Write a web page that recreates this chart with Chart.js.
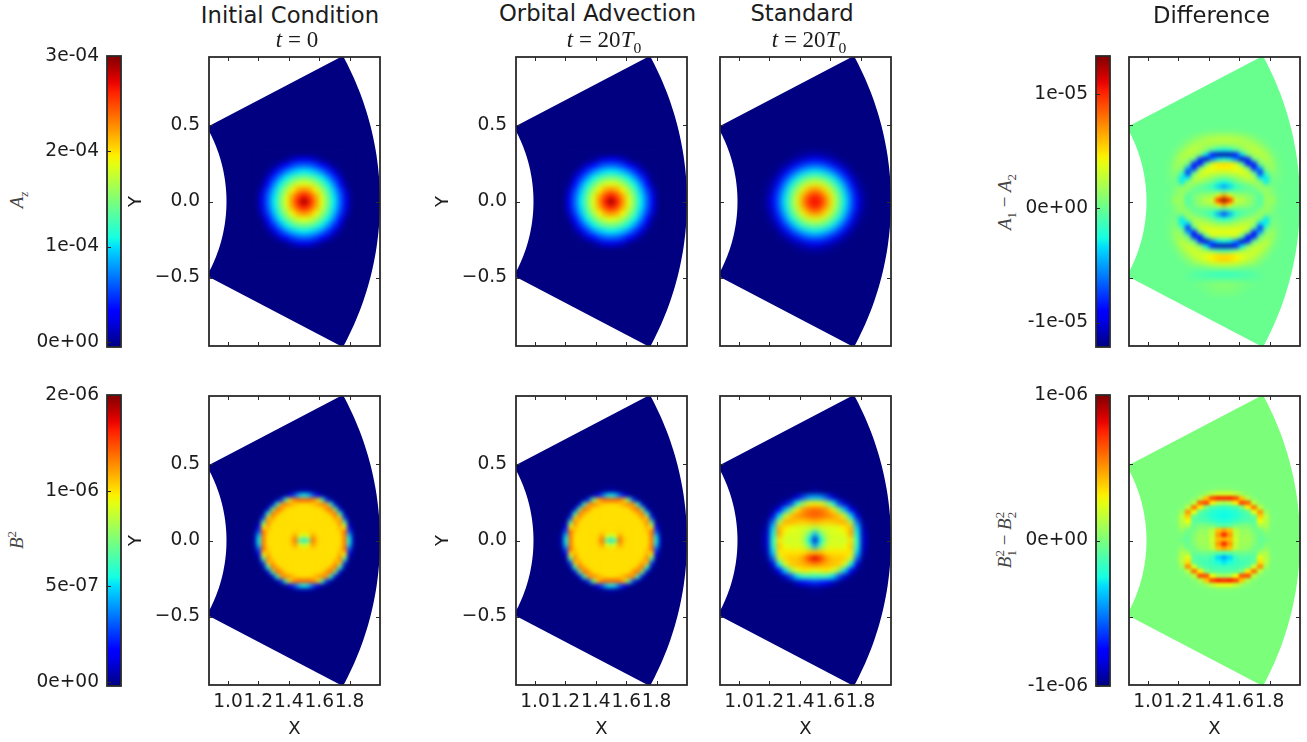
<!DOCTYPE html>
<html>
<head>
<meta charset="utf-8">
<title>Orbital advection field loop</title>
<script src="https://cdn.jsdelivr.net/npm/chart.js@4"></script>
<style>
  html, body { margin: 0; padding: 0; background: #fff; }
  body { position: relative; width: 1307px; height: 742px; overflow: hidden; }
  canvas { position: absolute; }
  .txt { position: absolute; white-space: nowrap; color: #1c1c1c; transform: translate(-50%, -50%); }
  .head { font: 22.7px "DejaVu Sans", sans-serif; }
  .math { font: italic 23px "Liberation Serif", serif; }
  .math span, .side span { font-style: normal; }
  .side { font: italic 19px "Liberation Serif", serif; color: #444; transform: translate(-50%, -50%) rotate(-90deg); }
  sub, sup { font-size: 68%; line-height: 0; }
  sub + sup { margin-left: -0.5em; }
</style>
</head>
<body>
<script>
// tick labels
const xTicks = [1.0, 1.2, 1.4, 1.6, 1.8];
const xTickLabels = ['1.0', '1.2', '1.4', '1.6', '1.8'];
const yTicks = [-0.5, 0, 0.5];
const yTickLabels = ['\u22120.5', '0.0', '0.5'];

// colorbars: value range and ticks
const barARange = [-5.5e-6, 3e-4];
const barATicks = [0, 1e-4, 2e-4, 3e-4];
const barALabels = ['0e+00', '1e-04', '2e-04', '3e-04'];
const barBRange = [-0.02e-6, 1.5e-6];
const barBTicks = [0, 5e-7, 1e-6, 1.5e-6];
const barBLabels = ['0e+00', '5e-07', '1e-06', '2e-06'];
const barDiffARange = [-1.213e-5, 1.334e-5];
const barDiffATicks = [-1e-5, 0, 1e-5];
const barDiffALabels = ['-1e-05', '0e+00', '1e-05'];
const barDiffBRange = [-1e-6, 1e-6];
const barDiffBTicks = [-1e-6, 0, 1e-6];
const barDiffBLabels = ['-1e-06', '0e+00', '1e-06'];

// Az, units 1e-6, quarter of the loop (grid 0.04)
const azInitial = [
  [300, 268, 228, 188, 148, 108, 68, 28, 0],
  [268, 251, 219, 182, 143, 104, 65, 25, 0],
  [228, 219, 195, 164, 129, 93, 55, 17, 0],
  [188, 182, 164, 138, 108, 75, 40, 5, 0],
  [148, 143, 129, 108, 82, 52, 20, 0, 0],
  [108, 104, 93, 75, 52, 25, 5, 0, 0],
  [68, 65, 55, 40, 20, 5, 0, 0, 0],
  [28, 25, 17, 5, 0, 0, 0, 0, 0],
  [0, 0, 0, 0, 0, 0, 0, 0, 0]
];
const azStandard = [
  [272, 265, 230, 188, 148, 108, 68, 32, 8],
  [265, 250, 219, 182, 143, 104, 65, 28, 6],
  [230, 219, 195, 164, 129, 93, 55, 20, 4],
  [188, 182, 164, 138, 108, 75, 42, 12, 2],
  [148, 143, 129, 108, 82, 52, 22, 5, 0],
  [108, 104, 93, 75, 52, 27, 8, 0, 0],
  [68, 65, 55, 42, 22, 8, 2, 0, 0],
  [32, 28, 20, 12, 5, 0, 0, 0, 0],
  [8, 6, 4, 2, 0, 0, 0, 0, 0]
];

// B^2, units 1e-8, quarter of the loop (grid 0.03)
const b2Initial = [
  [50, 62, 120, 104, 101, 101, 101, 101, 101, 118, 55, 5],
  [85, 95, 112, 102, 101, 101, 101, 101, 101, 118, 50, 3],
  [100, 102, 102, 101, 101, 101, 101, 101, 104, 120, 32, 1],
  [101, 101, 101, 101, 101, 101, 101, 101, 108, 98, 18, 0],
  [101, 101, 101, 101, 101, 101, 101, 102, 116, 70, 4, 0],
  [101, 101, 101, 101, 101, 101, 101, 112, 104, 28, 0, 0],
  [101, 101, 101, 101, 101, 101, 110, 118, 58, 4, 0, 0],
  [101, 101, 101, 101, 102, 114, 120, 68, 10, 0, 0, 0],
  [101, 102, 104, 110, 116, 112, 58, 10, 0, 0, 0, 0],
  [122, 122, 118, 104, 70, 28, 4, 0, 0, 0, 0, 0],
  [55, 50, 32, 18, 4, 0, 0, 0, 0, 0, 0, 0],
  [5, 3, 1, 0, 0, 0, 0, 0, 0, 0, 0, 0]
];
// half of the loop, top to bottom (grid 0.04)
const b2Standard = [
  [4, 1, 0, 0, 0, 0, 0, 0, 0],
  [45, 42, 30, 12, 2, 0, 0, 0, 0],
  [98, 95, 82, 58, 28, 10, 1, 0, 0],
  [120, 118, 112, 100, 74, 45, 18, 2, 0],
  [122, 120, 116, 112, 105, 88, 50, 12, 0],
  [108, 106, 104, 105, 108, 108, 82, 35, 2],
  [85, 90, 92, 93, 95, 100, 108, 50, 6],
  [45, 72, 88, 92, 92, 95, 110, 55, 8],
  [10, 55, 85, 92, 90, 90, 100, 60, 10],
  [42, 72, 90, 93, 92, 95, 105, 58, 8],
  [105, 105, 100, 100, 100, 100, 100, 50, 6],
  [138, 128, 112, 105, 105, 103, 90, 35, 2],
  [115, 112, 108, 106, 104, 92, 55, 12, 0],
  [95, 98, 100, 95, 80, 50, 18, 2, 0],
  [62, 62, 62, 52, 30, 10, 1, 0, 0],
  [25, 22, 18, 9, 2, 0, 0, 0, 0],
  [3, 1, 0, 0, 0, 0, 0, 0, 0]
];

// A1 - A2, units 1e-7, half of the loop, top to bottom (grid 0.04 x 0.03)
const azDiff = [
  [0, 0, 0, 0, 0, 0, 0, 0, 0, 0],
  [5, 5, 4, 3, 2, 0, 0, 0, 0, 0],
  [20, 19, 17, 14, 10, 6, 2, 0, 0, 0],
  [25, 25, 24, 22, 18, 12, 6, 2, 0, 0],
  [10, 12, 15, 19, 22, 22, 14, 6, 1, 0],
  [-28, -22, -8, 10, 20, 25, 22, 12, 4, 0],
  [-112, -110, -88, -35, 8, 20, 25, 20, 8, 1],
  [-25, -30, -55, -108, -80, 0, 15, 22, 12, 2],
  [50, 48, 35, -10, -88, -82, 5, 15, 15, 3],
  [45, 45, 42, 35, 5, -85, -50, 10, 15, 4],
  [25, 27, 32, 35, 32, -5, -80, -10, 10, 4],
  [5, 8, 14, 22, 28, 22, -35, -30, 5, 3],
  [-25, -15, 0, 8, 15, 20, 12, -30, 3, 2],
  [-52, -36, -18, -8, -2, 5, 15, 10, 5, 1],
  [-8, -5, -2, 0, 0, -3, 8, 15, 8, 1],
  [70, 45, 18, 16, 12, 4, -6, 15, 10, 2],
  [133, 105, 35, 24, 16, 6, -8, 15, 18, 3],
  [70, 45, 18, 16, 12, 4, -6, 15, 10, 2],
  [-10, -7, -2, 0, 0, -3, 8, 15, 8, 1],
  [-78, -48, -20, -8, -2, 5, 15, 8, 5, 1],
  [-25, -15, -2, 8, 14, 18, 12, -30, 3, 2],
  [8, 10, 16, 22, 25, 20, -35, -30, 5, 3],
  [30, 30, 32, 34, 30, -5, -80, -10, 10, 4],
  [40, 40, 40, 32, 5, -85, -50, 10, 15, 4],
  [25, 25, 28, -10, -88, -82, 5, 15, 15, 3],
  [-25, -30, -55, -108, -80, 0, 15, 25, 12, 2],
  [-112, -110, -88, -35, 8, 22, 28, 22, 8, 1],
  [-18, -12, 0, 15, 25, 32, 26, 15, 4, 0],
  [50, 50, 45, 38, 32, 28, 18, 8, 1, 0],
  [55, 52, 45, 35, 28, 20, 10, 3, 0, 0],
  [30, 28, 25, 20, 14, 10, 4, 0, 0, 0],
  [5, 5, 4, 2, 0, 0, 0, 0, 0, 0],
  [-15, -14, -12, -10, -8, -5, -2, 0, 0, 0],
  [-8, -8, -8, -7, -6, -4, -2, 0, 0, 0],
  [6, 6, 5, 4, 2, 0, 0, 0, 0, 0],
  [10, 9, 7, 5, 3, 1, 0, 0, 0, 0],
  [5, 5, 4, 2, 0, 0, 0, 0, 0, 0]
];

// B1^2 - B2^2, units 1e-8, half of the loop, top to bottom (grid 0.04 x 0.03)
const b2Diff = [
  [0, 0, 0, 0, 0, 0, 0, 0, 0],
  [2, 2, 1, 0, 0, 0, 0, 0, 0],
  [20, 20, 16, 8, 2, 0, 0, 0, 0],
  [72, 74, 66, 40, 12, 2, 0, 0, 0],
  [10, 15, 32, 66, 60, 15, 2, 0, 0],
  [-18, -16, -12, 0, 32, 56, 15, 1, 0],
  [-25, -24, -20, -15, -8, 26, 50, 8, 0],
  [-26, -25, -22, -16, -12, -5, 38, 15, 0],
  [-22, -20, -16, -12, -10, -8, 28, 14, 1],
  [-10, -8, -2, 0, 0, -5, 12, 12, 0],
  [48, 40, 15, 6, 6, -2, -2, 5, 0],
  [75, 50, 18, 8, 8, 2, -5, 0, 0],
  [45, 42, 20, 8, 10, 3, -6, -3, 0],
  [75, 50, 18, 8, 8, 2, -5, 0, 0],
  [48, 40, 15, 6, 6, -2, -2, 5, 0],
  [-12, -10, -5, -3, -4, -6, 10, 12, 0],
  [-42, -32, -16, -10, -12, -8, 25, 14, 1],
  [-30, -25, -18, -14, -12, -6, 35, 15, 0],
  [-16, -15, -14, -12, -6, 20, 52, 8, 0],
  [-10, -10, -8, 0, 32, 58, 15, 1, 0],
  [8, 12, 28, 64, 65, 15, 2, 0, 0],
  [74, 76, 68, 40, 12, 2, 0, 0, 0],
  [25, 25, 18, 8, 2, 0, 0, 0, 0],
  [2, 2, 1, 0, 0, 0, 0, 0, 0],
  [0, 0, 0, 0, 0, 0, 0, 0, 0]
];

const LOOP_X = 1.5;
const X_RANGE = [0.875, 2.0];
const Y_RANGE = [-0.95, 0.95];
const INK = '#2a2a2a';
const TICK_SIZE = 18.6;

// matplotlib jet
function ramp(stops, t) {
  for (let i = 1; i < stops.length; i++) {
    if (t <= stops[i][0]) {
      const a = stops[i - 1], b = stops[i];
      return a[1] + (b[1] - a[1]) * (t - a[0]) / (b[0] - a[0]);
    }
  }
  return stops[stops.length - 1][1];
}
function jet(t) {
  t = Math.max(0, Math.min(1, t));
  const r = ramp([[0, 0], [0.35, 0], [0.66, 1], [0.89, 1], [1, 0.5]], t);
  const g = ramp([[0, 0], [0.125, 0], [0.375, 1], [0.64, 1], [0.91, 0], [1, 0]], t);
  const b = ramp([[0, 0.5], [0.11, 1], [0.34, 1], [0.65, 0], [1, 0]], t);
  return 'rgb(' + Math.round(r * 255) + ',' + Math.round(g * 255) + ',' + Math.round(b * 255) + ')';
}

function addCanvas(left, top, width, height) {
  const c = document.createElement('canvas');
  c.width = width;
  c.height = height;
  c.style.left = left + 'px';
  c.style.top = top + 'px';
  document.body.appendChild(c);
  return c.getContext('2d');
}

function addText(cls, x, y, html) {
  const d = document.createElement('div');
  d.className = 'txt ' + cls;
  d.style.left = x + 'px';
  d.style.top = y + 'px';
  d.innerHTML = html;
  document.body.appendChild(d);
}

// inward tick marks and the frame, matplotlib classic look
function drawFrame(chart, allSides) {
  const ctx = chart.ctx, a = chart.chartArea, len = 4;
  ctx.save();
  ctx.strokeStyle = INK;
  ctx.lineWidth = 1;
  ctx.beginPath();
  const y = chart.scales.y;
  y.ticks.forEach(t => {
    const py = Math.round(y.getPixelForValue(t.value)) + 0.5;
    ctx.moveTo(a.left, py);
    ctx.lineTo(a.left + len, py);
    if (allSides) {
      ctx.moveTo(a.right, py);
      ctx.lineTo(a.right - len, py);
    }
  });
  if (allSides) {
    const x = chart.scales.x;
    x.ticks.forEach(t => {
      const px = Math.round(x.getPixelForValue(t.value)) + 0.5;
      ctx.moveTo(px, a.top);
      ctx.lineTo(px, a.top + len);
      ctx.moveTo(px, a.bottom);
      ctx.lineTo(px, a.bottom - len);
    });
  }
  ctx.stroke();
  ctx.lineWidth = 1.8;
  ctx.strokeRect(a.left, a.top, a.right - a.left, a.bottom - a.top);
  ctx.restore();
}

// outline of the simulated wedge in data space
function wedgePath(ctx, sx, sy) {
  const rIn = 0.99, rOut = 2.0, angIn = 29.6 * Math.PI / 180, angOut = 28.6 * Math.PI / 180;
  ctx.beginPath();
  for (let i = 0; i <= 60; i++) {
    const t = angOut - 2 * angOut * i / 60;
    const px = sx.getPixelForValue(rOut * Math.cos(t)), py = sy.getPixelForValue(rOut * Math.sin(t));
    if (i === 0) ctx.moveTo(px, py); else ctx.lineTo(px, py);
  }
  for (let i = 0; i <= 60; i++) {
    const t = -angIn + 2 * angIn * i / 60;
    ctx.lineTo(sx.getPixelForValue(rIn * Math.cos(t)), sy.getPixelForValue(rIn * Math.sin(t)));
  }
  ctx.closePath();
}

// the cells are drawn by the scatter dataset, then smoothed and cut to the wedge
const wedgePlugin = {
  id: 'wedge',
  afterDatasetsDraw(chart, args, opts) {
    const ctx = chart.ctx, a = chart.chartArea;
    const tmp = document.createElement('canvas');
    tmp.width = chart.width;
    tmp.height = chart.height;
    const t = tmp.getContext('2d');
    t.filter = 'blur(' + opts.blur + 'px)';
    t.drawImage(chart.canvas, 0, 0);
    ctx.clearRect(a.left, a.top, a.right - a.left, a.bottom - a.top);
    ctx.save();
    ctx.beginPath();
    ctx.rect(a.left, a.top, a.right - a.left, a.bottom - a.top);
    ctx.clip();
    wedgePath(ctx, chart.scales.x, chart.scales.y);
    ctx.clip();
    ctx.fillStyle = opts.background;
    ctx.fillRect(a.left, a.top, a.right - a.left, a.bottom - a.top);
    ctx.drawImage(tmp, 0, 0);
    ctx.restore();
  },
  afterDraw(chart) {
    drawFrame(chart, true);
  }
};

// field: rows top to bottom, first column on the loop axis
function fieldPoints(field) {
  const pts = [], colors = [];
  const rows = [];
  field.rows.forEach((row, j) => {
    const y = field.quarter ? j * field.dy : field.topY - j * field.dy;
    rows.push([y, row]);
    if (field.quarter && j > 0) rows.push([-y, row]);
  });
  rows.forEach(item => {
    item[1].forEach((v, i) => {
      const c = jet((v * field.unit - field.range[0]) / (field.range[1] - field.range[0]));
      pts.push({ x: LOOP_X + i * field.dx, y: item[0] });
      colors.push(c);
      if (i > 0) {
        pts.push({ x: LOOP_X - i * field.dx, y: item[0] });
        colors.push(c);
      }
    });
  });
  return { pts, colors };
}

function zeroPadding(s) {
  s.paddingLeft = 0;
  s.paddingRight = 0;
  s.paddingTop = 0;
  s.paddingBottom = 0;
}

function panel(left, top, field, showX, showY) {
  const w = 171, h = 289, mLeft = 83, mTop = 6, mRight = 5, mBottom = 55;
  const ctx = addCanvas(left - mLeft, top - mTop, mLeft + w + mRight, mTop + h + mBottom);
  const d = fieldPoints(field);
  const scale = Math.max(field.dx, field.dy) * 151;
  new Chart(ctx, {
    type: 'scatter',
    data: {
      datasets: [{
        data: d.pts,
        pointStyle: 'rect',
        pointRadius: scale * 0.82,
        pointHoverRadius: scale * 0.82,
        borderWidth: 0,
        pointBorderWidth: 0,
        pointBackgroundColor: d.colors
      }]
    },
    options: {
      responsive: false,
      animation: false,
      events: [],
      layout: { padding: { left: 0, top: mTop, right: mRight, bottom: 0 } },
      plugins: {
        legend: { display: false },
        tooltip: { enabled: false },
        wedge: { blur: field.blur, background: jet((0 - field.range[0]) / (field.range[1] - field.range[0])) }
      },
      scales: {
        x: {
          type: 'linear',
          min: X_RANGE[0],
          max: X_RANGE[1],
          afterBuildTicks: s => { s.ticks = xTicks.map(v => ({ value: v })); },
          afterFit: s => { s.height = mBottom; zeroPadding(s); },
          grid: { display: false, drawTicks: false, z: 1 },
          border: { display: false, z: 1 },
          title: { display: showX, text: 'X', color: '#1c1c1c', font: { family: 'DejaVu Sans', size: 18 }, padding: 0 },
          ticks: {
            display: showX,
            z: 1,
            color: '#1c1c1c',
            autoSkip: false,
            maxRotation: 0,
            padding: 6,
            font: { family: 'DejaVu Sans', size: TICK_SIZE },
            callback: (v, i) => xTickLabels[i]
          }
        },
        y: {
          type: 'linear',
          min: Y_RANGE[0],
          max: Y_RANGE[1],
          afterBuildTicks: s => { s.ticks = yTicks.map(v => ({ value: v })); },
          afterFit: s => { s.width = mLeft; zeroPadding(s); },
          grid: { display: false, drawTicks: false, z: 1 },
          border: { display: false, z: 1 },
          title: { display: showY, text: 'Y', color: '#1c1c1c', font: { family: 'DejaVu Sans', size: 18 }, padding: 0 },
          ticks: {
            display: showY,
            z: 1,
            color: '#1c1c1c',
            autoSkip: false,
            padding: 9,
            font: { family: 'DejaVu Sans', size: TICK_SIZE },
            callback: (v, i) => yTickLabels[i]
          }
        }
      }
    },
    plugins: [wedgePlugin]
  });
}

function colorbar(left, top, range, ticks, labels) {
  const w = 14, h = 291, mLeft = 72, mTop = 12, mRight = 3, mBottom = 12;
  const ctx = addCanvas(left - mLeft, top - mTop, mLeft + w + mRight, mTop + h + mBottom);
  new Chart(ctx, {
    type: 'bar',
    data: {
      labels: [''],
      datasets: [{
        data: [range],
        barPercentage: 1,
        categoryPercentage: 1,
        backgroundColor: c => {
          const a = c.chart.chartArea;
          if (!a) return '#000';
          const g = c.chart.ctx.createLinearGradient(0, a.bottom, 0, a.top);
          for (let i = 0; i <= 32; i++) g.addColorStop(i / 32, jet(i / 32));
          return g;
        }
      }]
    },
    options: {
      responsive: false,
      animation: false,
      events: [],
      layout: { padding: { top: mTop, right: mRight, bottom: mBottom } },
      plugins: { legend: { display: false }, tooltip: { enabled: false } },
      scales: {
        x: { display: false },
        y: {
          min: range[0],
          max: range[1],
          afterBuildTicks: s => { s.ticks = ticks.map(v => ({ value: v })); },
          afterFit: s => { s.width = mLeft; zeroPadding(s); },
          grid: { display: false, drawTicks: false },
          border: { display: false },
          ticks: {
            color: '#1c1c1c',
            autoSkip: false,
            padding: 8,
            font: { family: 'DejaVu Sans', size: TICK_SIZE },
            callback: (v, i) => labels[i]
          }
        }
      }
    },
    plugins: [{ id: 'barFrame', afterDraw(chart) { drawFrame(chart, false); } }]
  });
}

// colour limits of the images; the bars run slightly below them
const imageARange = [0, 3e-4];
const imageBRange = [0, 1.5e-6];

const fieldAz = { rows: azInitial, quarter: true, dx: 0.04, dy: 0.04, unit: 1e-6, range: imageARange, blur: 2.5 };
const fieldAzStd = { rows: azStandard, quarter: true, dx: 0.04, dy: 0.04, unit: 1e-6, range: imageARange, blur: 3 };
const fieldB2 = { rows: b2Initial, quarter: true, dx: 0.03, dy: 0.03, unit: 1e-8, range: imageBRange, blur: 2.3 };
const fieldB2Std = { rows: b2Standard, quarter: false, topY: 0.32, dx: 0.04, dy: 0.04, unit: 1e-8, range: imageBRange, blur: 2.8 };
const fieldAzDiff = { rows: azDiff, quarter: false, topY: 0.48, dx: 0.04, dy: 0.03, unit: 1e-7, range: barDiffARange, blur: 1.9 };
const fieldB2Diff = { rows: b2Diff, quarter: false, topY: 0.36, dx: 0.04, dy: 0.03, unit: 1e-8, range: barDiffBRange, blur: 1.8 };

colorbar(107, 56, barARange, barATicks, barALabels);
colorbar(107, 395, barBRange, barBTicks, barBLabels);
colorbar(1096, 56, barDiffARange, barDiffATicks, barDiffALabels);
colorbar(1096, 395, barDiffBRange, barDiffBTicks, barDiffBLabels);

panel(209, 57, fieldAz, false, true);
panel(516, 57, fieldAz, false, true);
panel(720, 57, fieldAzStd, false, false);
panel(1129, 57, fieldAzDiff, false, false);
panel(209, 396, fieldB2, true, true);
panel(516, 396, fieldB2, true, true);
panel(720, 396, fieldB2Std, true, false);
panel(1129, 396, fieldB2Diff, true, false);

addText('head', 290, 15, 'Initial Condition');
addText('head', 597.5, 13, 'Orbital Advection');
addText('head', 802, 13, 'Standard');
addText('head', 1211.5, 15, 'Difference');
addText('math', 297, 40, 't <span>=</span> <span>0</span>');
addText('math', 604, 40, 't <span>= 20</span>T<sub><span>0</span></sub>');
addText('math', 809, 40, 't <span>= 20</span>T<sub><span>0</span></sub>');
addText('side', 17, 200, 'A<sub>z</sub>');
addText('side', 17, 540, 'B<sup><span>2</span></sup>');
addText('side', 1005, 202, 'A<sub><span>1</span></sub> <span>\u2212</span> A<sub><span>2</span></sub>');
addText('side', 1005, 540, 'B<sub><span>1</span></sub><sup><span>2</span></sup> <span>\u2212</span> B<sub><span>2</span></sub><sup><span>2</span></sup>');
</script>
</body>
</html>
